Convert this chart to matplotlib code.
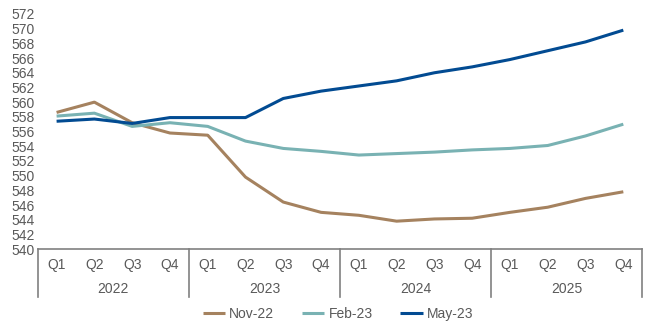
import matplotlib.pyplot as plt
import numpy as np

plt.rcParams['font.family'] = ['Liberation Sans', 'DejaVu Sans']

# Chart data
quarters = ["Q1", "Q2", "Q3", "Q4"]
years = ["2022", "2023", "2024", "2025"]
nov22 = [558.6, 560.0, 557.2, 555.8, 555.5, 549.8, 546.4, 545.0,
         544.6, 543.8, 544.1, 544.2, 545.0, 545.7, 546.9, 547.8]
feb23 = [558.1, 558.5, 556.7, 557.2, 556.7, 554.7, 553.7, 553.3,
         552.8, 553.0, 553.2, 553.5, 553.7, 554.1, 555.4, 557.0]
may23 = [557.4, 557.7, 557.1, 557.9, 557.9, 557.9, 560.5, 561.5,
         562.2, 562.9, 564.0, 564.8, 565.8, 567.0, 568.2, 569.8]
series_names = ["Nov-22", "Feb-23", "May-23"]
colors = ["#A5825F", "#79B2B3", "#024B92"]
y_ticks = np.arange(540, 573, 2)

fig = plt.figure(figsize=(6.5, 3.33), dpi=100)
ax = fig.add_axes([0.058, 0.252, 0.930, 0.706])

x = np.arange(len(nov22))
for vals, name, c in zip([nov22, feb23, may23], series_names, colors):
    ax.plot(x, vals, color=c, lw=2.2, label=name, solid_capstyle='butt')

ax.set_xlim(-0.5, len(x) - 0.5)
ax.set_ylim(540, 572)
ax.set_yticks(y_ticks)
ax.tick_params(axis='y', length=0, labelsize=10, labelcolor='#595959', pad=2)
ax.set_xticks([])
for s in ['top', 'right', 'left']:
    ax.spines[s].set_visible(False)
ax.spines['bottom'].set_color('#808080')
ax.spines['bottom'].set_linewidth(1.2)

# Two-level category axis
trans = ax.get_xaxis_transform()
gray = '#808080'
for i in range(len(years) + 1):
    xb = i * 4 - 0.5
    ax.plot([xb, xb], [0, -0.205], transform=trans, color=gray, lw=1.2,
            clip_on=False)
for i, yr in enumerate(years):
    for j, q in enumerate(quarters):
        ax.text(i * 4 + j, -0.068, q, transform=trans, ha='center',
                va='center', fontsize=10, color='#595959')
    ax.text(i * 4 + 1.5, -0.170, yr, transform=trans, ha='center',
            va='center', fontsize=10, color='#595959')

leg = fig.legend(loc='center', bbox_to_anchor=(0.52, 0.057), ncol=3,
                 frameon=False, fontsize=10, handlelength=1.6,
                 handletextpad=0.3, columnspacing=2.0)
for t in leg.get_texts():
    t.set_color('#595959')

fig.savefig("out.png", dpi=100)
